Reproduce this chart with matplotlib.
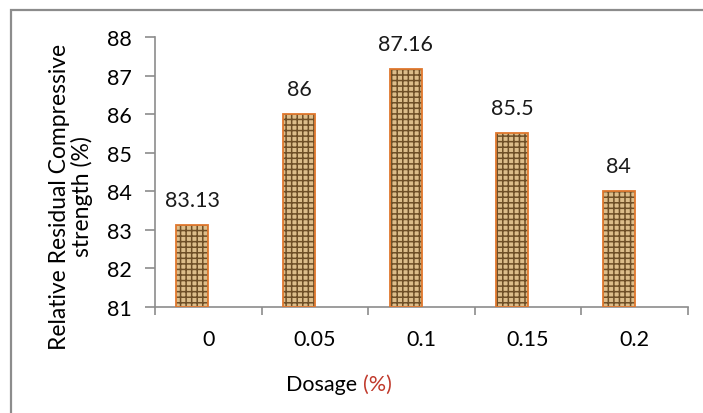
# Relative residual compressive strength against dosage, bar chart
import numpy as np
import matplotlib
matplotlib.use("Agg")
import matplotlib.pyplot as plt
from matplotlib.patches import Rectangle

plt.rcParams['font.family'] = ['Lato', 'DejaVu Sans']
plt.rcParams['hatch.linewidth'] = 1.1

# Data
dosage = ['0', '0.05', '0.1', '0.15', '0.2']
strength = [83.13, 86, 87.16, 85.5, 84]
value_labels = ['83.13', '86', '87.16', '85.5', '84']
y_ticks = [81, 82, 83, 84, 85, 86, 87, 88]

fig = plt.figure(figsize=(7.03, 4.14), dpi=100)
ax = fig.add_axes([155/703, 1-308/414, (688-155)/703, (308-38)/414])

# outer frame (right and bottom fall outside the picture)
fig.patches.append(Rectangle((11/703, -0.2), 1.2, 0.2 + 1 - 11/414,
                             transform=fig.transFigure, fill=False,
                             edgecolor='#8c8c8c', lw=1.6))

x = np.arange(len(dosage))
bw = 0.3
xpos = x - bw/2
base = y_ticks[0]
heights = [v - base for v in strength]

# textured fill, then outline
ax.bar(xpos, heights, bw, bottom=base, color='#dcbd8a', edgecolor='#6e4f27',
       hatch='+++', linewidth=0, zorder=2)
ax.bar(xpos, heights, bw, bottom=base, fill=False, edgecolor='#e0782e',
       linewidth=1.3, zorder=3)

for xp, v, lab in zip(xpos, strength, value_labels):
    ax.annotate(lab, (xp, v), xytext=(0, 11), textcoords='offset points',
                ha='center', va='bottom', fontsize=15.5, color='#1a1a1a')

ax.set_xlim(-0.5, len(dosage) - 0.5)
ax.set_ylim(y_ticks[0], y_ticks[-1])
ax.set_yticks(y_ticks)
ax.set_xticks(np.arange(-0.5, len(dosage)), minor=False)
ax.set_xticklabels([])
ax.set_xticks(x, minor=True)
ax.set_xticklabels(dosage, minor=True)
ax.tick_params(axis='x', which='major', length=6, color='#8c8c8c', width=1.2)
ax.tick_params(axis='x', which='minor', length=0, pad=16, labelsize=15.5)
ax.tick_params(axis='y', length=7, color='#8c8c8c', width=1.2, labelsize=15.5, pad=10)

for s in ['top', 'right']:
    ax.spines[s].set_visible(False)
for s in ['left', 'bottom']:
    ax.spines[s].set_color('#8c8c8c')
    ax.spines[s].set_linewidth(1.2)

ax.set_ylabel('Relative Residual Compressive\nstrength (%)', fontsize=16.5,
              linespacing=1.05)
ax.yaxis.set_label_coords((93-155)/533, (308-197)/270)

fig.text(363/703, 1 - 385/414, 'Dosage ', ha='right', va='center', fontsize=15.5)
fig.text(363/703, 1 - 385/414, '(%)', ha='left', va='center', fontsize=15.5,
         color='#c0392b')

fig.savefig('out.png', dpi=100)
